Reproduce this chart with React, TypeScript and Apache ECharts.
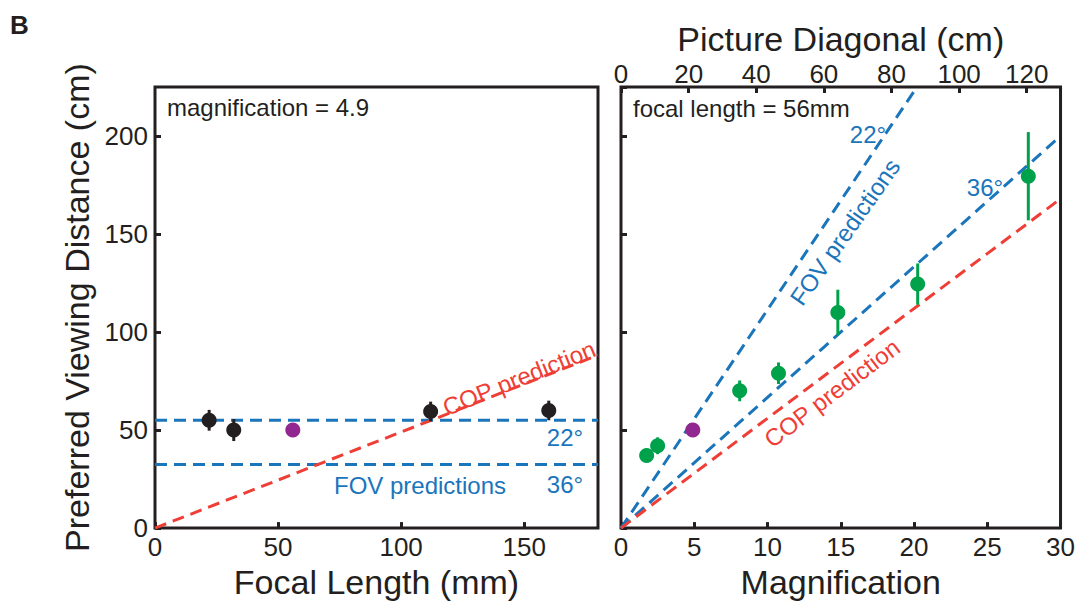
import React, { useEffect, useRef } from "react";
import * as echarts from "echarts";

// ---- Data ----
// Left panel: preferred viewing distance vs focal length (magnification = 4.9)
const focalLengths = [22, 32, 112, 160];
const focalDist = [55, 50, 59.5, 60];
const focalErr = [5.3, 5.6, 5, 5];
const focalPurple = [56, 50];
const leftFov22 = 55;
const leftFov36 = 32.5;
const leftCop = [
  [0, 0],
  [180, 88.2],
];

// Right panel: preferred viewing distance vs magnification (focal length = 56mm)
const mags = [1.75, 2.5, 8.1, 10.75, 14.8, 20.25, 27.8];
const magDist = [37, 42, 70, 79, 110, 124.5, 179.5];
const magErr = [3, 4.3, 5.3, 5.5, 11.6, 10.5, 22.5];
const magPurple = [4.9, 50];
const rightFov22 = [
  [0, 0],
  [20.2, 225],
];
const rightFov36 = [
  [0, 0],
  [30, 200],
];
const rightCop = [
  [0, 0],
  [30, 168],
];

// Axis settings
const yTicks = { min: 0, max: 225, interval: 50 };
const focalAxis = { min: 0, max: 180, interval: 50 };
const magAxis = { min: 0, max: 30, interval: 5 };
const diagAxis = { min: 0, max: 130, interval: 20 };

const BLACK = "#231f20";
const BLUE = "#1b75bb";
const RED = "#ef3e36";
const GREEN = "#00a14b";
const PURPLE = "#92278f";
const FONT = "'Liberation Sans', Arial, Helvetica, sans-serif";

export default function App() {
  const ref = useRef<HTMLDivElement>(null);

  useEffect(() => {
    document.body.style.margin = "0";
    if (!ref.current) return;
    const chart = echarts.init(ref.current, undefined, { renderer: "svg" });

    const axisLabel = { color: BLACK, fontSize: 26, fontFamily: FONT };
    const tick = { show: true, inside: true, length: 6, lineStyle: { color: BLACK, width: 3 } };
    const nameStyle = { color: BLACK, fontSize: 34, fontFamily: FONT };

    const errBar = (color: string, xIdx: number, yIdx: number, xs: number[], ys: number[], es: number[]) => ({
      type: "custom",
      xAxisIndex: xIdx,
      yAxisIndex: yIdx,
      z: 3,
      silent: true,
      data: xs.map((x, i) => [x, ys[i] - es[i], ys[i] + es[i]]),
      encode: { x: 0, y: [1, 2] },
      renderItem: (_p: any, api: any) => {
        const a = api.coord([api.value(0), api.value(1)]);
        const b = api.coord([api.value(0), api.value(2)]);
        return {
          type: "line",
          shape: { x1: a[0], y1: a[1], x2: b[0], y2: b[1] },
          style: { stroke: color, lineWidth: 3 },
        };
      },
    });

    const dashed = (data: number[][], color: string, xIdx: number, yIdx: number) => ({
      type: "line",
      xAxisIndex: xIdx,
      yAxisIndex: yIdx,
      data,
      symbol: "none",
      silent: true,
      z: 2,
      lineStyle: { color, width: 3, type: [12, 7] },
    });

    const scatter = (data: number[][], color: string, xIdx: number, yIdx: number) => ({
      type: "scatter",
      xAxisIndex: xIdx,
      yAxisIndex: yIdx,
      data,
      symbolSize: 15,
      z: 4,
      itemStyle: { color, opacity: 1 },
    });

    const txt = (text: string, x: number, y: number, color: string, rotDeg = 0, align = "center") => ({
      type: "text",
      x,
      y,
      rotation: (rotDeg * Math.PI) / 180,
      z: 10,
      style: {
        text,
        fill: color,
        font: `24px ${FONT}`,
        align,
        verticalAlign: "middle",
      },
    });

    chart.setOption({
      animation: false,
      backgroundColor: "#ffffff",
      grid: [
        { left: 155, top: 87, width: 443, height: 445, show: true, borderColor: BLACK, borderWidth: 3, backgroundColor: "transparent" },
        { left: 621, top: 87, width: 442, height: 445, show: true, borderColor: BLACK, borderWidth: 3, backgroundColor: "transparent" },
      ],
      xAxis: [
        {
          type: "value", gridIndex: 0, position: "bottom", ...focalAxis,
          axisLine: { show: false }, axisTick: tick, splitLine: { show: false },
          axisLabel: { ...axisLabel, margin: 6, showMaxLabel: false },
          name: "Focal Length (mm)", nameLocation: "middle", nameGap: 30, nameTextStyle: nameStyle,
        },
        {
          type: "value", gridIndex: 1, position: "bottom", ...magAxis,
          axisLine: { show: false }, axisTick: tick, splitLine: { show: false },
          axisLabel: { ...axisLabel, margin: 6 },
          name: "Magnification", nameLocation: "middle", nameGap: 30, nameTextStyle: nameStyle,
        },
        {
          type: "value", gridIndex: 1, position: "top", ...diagAxis,
          axisLine: { show: false }, axisTick: tick, splitLine: { show: false },
          axisLabel: { ...axisLabel, margin: 0, showMaxLabel: false },
          name: "Picture Diagonal (cm)", nameLocation: "middle", nameGap: 30, nameTextStyle: nameStyle,
        },
      ],
      yAxis: [
        {
          type: "value", gridIndex: 0, ...yTicks,
          axisLine: { show: false }, axisTick: tick, splitLine: { show: false },
          axisLabel: { ...axisLabel, margin: 7, showMaxLabel: false },
          name: "Preferred Viewing Distance (cm)", nameLocation: "middle", nameGap: 61, nameTextStyle: nameStyle,
        },
        {
          type: "value", gridIndex: 1, ...yTicks,
          axisLine: { show: false }, axisTick: tick, splitLine: { show: false },
          axisLabel: { show: false },
        },
      ],
      series: [
        // Left panel
        dashed([[focalAxis.min, leftFov22], [focalAxis.max, leftFov22]], BLUE, 0, 0),
        dashed([[focalAxis.min, leftFov36], [focalAxis.max, leftFov36]], BLUE, 0, 0),
        dashed(leftCop, RED, 0, 0),
        errBar(BLACK, 0, 0, focalLengths, focalDist, focalErr),
        scatter(focalLengths.map((x, i) => [x, focalDist[i]]), BLACK, 0, 0),
        scatter([focalPurple], PURPLE, 0, 0),
        // Right panel
        dashed(rightFov22, BLUE, 1, 1),
        dashed(rightFov36, BLUE, 1, 1),
        dashed(rightCop, RED, 1, 1),
        errBar(GREEN, 1, 1, mags, magDist, magErr),
        scatter(mags.map((x, i) => [x, magDist[i]]), GREEN, 1, 1),
        scatter([magPurple], PURPLE, 1, 1),
      ],
      graphic: [
        {
          type: "text", left: 10, top: 12,
          style: { text: "B", fill: BLACK, font: `bold 26px ${FONT}` },
        },
        txt("magnification = 4.9", 167, 107, BLACK, 0, "left"),
        txt("22°", 565, 437, BLUE),
        txt("36°", 565, 484, BLUE),
        txt("FOV predictions", 420, 485, BLUE),
        txt("COP prediction", 519, 378, RED, 22),
        txt("focal length = 56mm", 633, 108, BLACK, 0, "left"),
        txt("22°", 868, 134, BLUE),
        txt("36°", 985, 187, BLUE),
        txt("FOV predictions", 845, 232, BLUE, 55),
        txt("COP prediction", 832, 393, RED, 37),
      ],
    });

    return () => chart.dispose();
  }, []);

  return <div ref={ref} style={{ width: 1078, height: 604 }} />;
}
